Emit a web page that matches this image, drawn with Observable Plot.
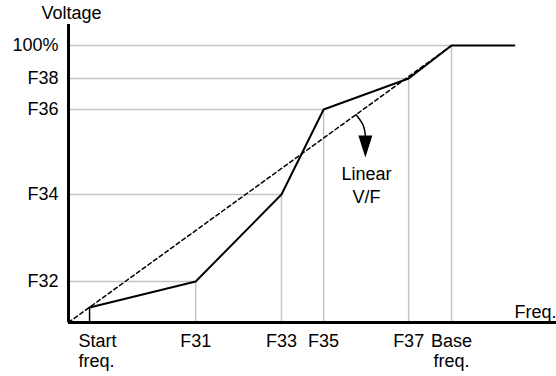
<!DOCTYPE html>
<html>
<head>
<meta charset="utf-8">
<script src="https://cdn.jsdelivr.net/npm/d3@7"></script>
<script src="https://cdn.jsdelivr.net/npm/@observablehq/plot@0.6"></script>
<style>
  html, body { margin: 0; padding: 0; background: #fff; }
  #chart svg { display: block; }
</style>
</head>
<body>
<div id="chart"></div>
<script>
// ---- data (frequency as % of base freq, voltage as % of max) ----
const freqLabels = ["F31", "F33", "F35", "F37", "Base\nfreq."];
const freqValues = [33.2, 55.6, 66.6, 88.8, 100];
const voltLabels = ["F32", "F34", "F36", "F38", "100%"];
const voltValues = [14.8, 46.2, 76.9, 88.1, 100];
const startLabel = "Start\nfreq.";
const startFreq = 5.5;
const startVolt = 5.4;
const endFreq = 116.4;
const xMax = 127.4;
const yMax = 107.6;
const yTitle = "Voltage";
const xTitle = "Freq.";
const noteText = "Linear\nV/F";
// curved pointer from the linear V/F line
const pointerX = [75.1, 76.9, 77.5];
const pointerY = [75.0, 71.3, 67.5];

const idx = d3.range(freqValues.length);
const curve = [{x: startFreq, y: startVolt}]
  .concat(idx.map(i => ({x: freqValues[i], y: voltValues[i]})))
  .concat([{x: endFreq, y: voltValues[voltValues.length - 1]}]);
const linear = [{x: 0, y: 0}, {x: freqValues[freqValues.length - 1], y: voltValues[voltValues.length - 1]}];
const pointer = pointerX.map((x, i) => ({x, y: pointerY[i]}));
const head = [pointer[pointer.length - 1]];

const grid = "#c4c4c4";
const font = "'Liberation Sans', Arial, sans-serif";

const triangle = {
  draw(context, l) {
    context.moveTo(-7, 0);
    context.lineTo(7, 0);
    context.lineTo(0, -l);
    context.closePath();
  }
};

const chart = Plot.plot({
  width: 556,
  height: 376,
  marginLeft: 68,
  marginRight: 0,
  marginTop: 24,
  marginBottom: 54,
  x: {domain: [0, xMax], axis: null},
  y: {domain: [0, yMax], axis: null},
  style: {fontFamily: font, fontSize: "18px", color: "#000", background: "#fff", overflow: "visible"},
  marks: [
    // gray guide lines
    Plot.ruleY(idx, {y: i => voltValues[i], x1: 0, x2: i => freqValues[i], stroke: grid, strokeWidth: 1.5}),
    Plot.ruleX(idx, {x: i => freqValues[i], y1: 0, y2: i => voltValues[i], stroke: grid, strokeWidth: 1.5}),
    // start frequency marker
    Plot.ruleX([startFreq], {y1: 0, y2: startVolt, stroke: "#000", strokeWidth: 1.5}),
    // linear V/F dashed
    Plot.line(linear, {x: "x", y: "y", stroke: "#000", strokeWidth: 1.5, strokeDasharray: "4,3"}),
    // user V/F curve
    Plot.line(curve, {x: "x", y: "y", stroke: "#000", strokeWidth: 2}),
    // axes
    Plot.ruleX([0], {y1: 0, y2: yMax, stroke: "#000", strokeWidth: 3}),
    Plot.ruleY([0], {x1: 0, x2: xMax, stroke: "#000", strokeWidth: 3}),
    // pointer
    Plot.line(pointer, {x: "x", y: "y", stroke: "#000", strokeWidth: 1.5, curve: "natural"}),
    Plot.vector(head, {x: "x", y: "y", length: 22, rotate: 180, anchor: "start", shape: triangle, fill: "#000", stroke: "none"}),
    Plot.text([noteText], {x: 77.8, y: 57.2, lineAnchor: "top", textAnchor: "middle", lineHeight: 1.25, fill: "#000"}),
    // y tick labels
    Plot.text(idx, {x: 0, y: i => voltValues[i], text: i => voltLabels[i], textAnchor: "end", dx: -10, fill: "#000"}),
    // x tick labels
    Plot.text(idx, {x: i => freqValues[i], y: 0, text: i => freqLabels[i], lineAnchor: "top", dy: 11, lineHeight: 1.08, fill: "#000"}),
    Plot.text([startLabel], {x: startFreq, y: 0, lineAnchor: "top", textAnchor: "start", dx: -11, dy: 11, lineHeight: 1.08, fill: "#000"}),
    // titles
    Plot.text([yTitle], {x: 0, y: yMax, lineAnchor: "bottom", dy: -6, dx: 3, fill: "#000"}),
    Plot.text([xTitle], {x: xMax, y: 0, lineAnchor: "bottom", textAnchor: "end", dy: -5, fill: "#000"})
  ]
});
document.getElementById("chart").appendChild(chart);
</script>
</body>
</html>
